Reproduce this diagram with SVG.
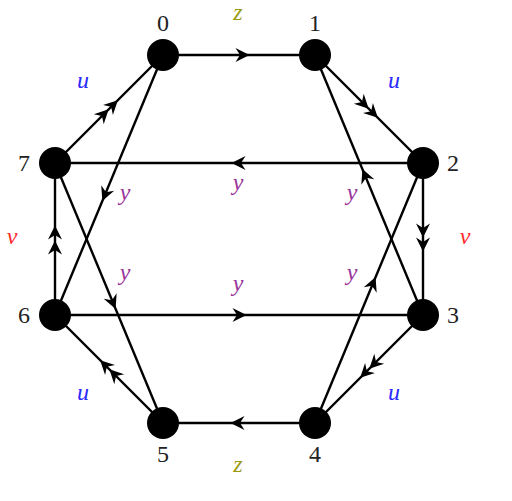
<svg xmlns="http://www.w3.org/2000/svg" xmlns:xlink="http://www.w3.org/1999/xlink" width="512" height="501" viewBox="0 0 512 501">
<style>
.edge{stroke:#000;stroke-width:2.4;fill:none}
.node{fill:#000}
.lbl{font-size:24px;fill:#222;text-anchor:middle}
.m{font-style:italic;font-size:24px;text-anchor:middle}
.u{fill:#2a2aff}.v{fill:#ff2a2a}.y{fill:#993399}.z{fill:#9a9a10}
</style>
<defs>
<path id="ah" d="M1.5,0 L-12.5,-7 L-8,0 L-12.5,7 Z" fill="#000"/>
</defs>
<rect width="512" height="501" fill="#fff"/>
<g id="connectors">
<line class="edge" x1="163" y1="55" x2="315" y2="55"/>
<line class="edge" x1="315" y1="55" x2="423" y2="163"/>
<line class="edge" x1="423" y1="163" x2="423" y2="315"/>
<line class="edge" x1="423" y1="315" x2="315" y2="423"/>
<line class="edge" x1="315" y1="423" x2="163" y2="423"/>
<line class="edge" x1="163" y1="423" x2="55" y2="315"/>
<line class="edge" x1="55" y1="315" x2="55" y2="163"/>
<line class="edge" x1="55" y1="163" x2="163" y2="55"/>
<line class="edge" x1="423" y1="163" x2="55" y2="163"/>
<line class="edge" x1="55" y1="315" x2="423" y2="315"/>
<line class="edge" x1="163" y1="55" x2="55" y2="315"/>
<line class="edge" x1="55" y1="163" x2="163" y2="423"/>
<line class="edge" x1="423" y1="315" x2="315" y2="55"/>
<line class="edge" x1="315" y1="423" x2="423" y2="163"/>
<use xlink:href="#ah" transform="translate(248,55)"/>
<use xlink:href="#ah" transform="translate(232,423) rotate(180)"/>
<use xlink:href="#ah" transform="translate(233,163) rotate(180)"/>
<use xlink:href="#ah" transform="translate(245,315)"/>
<use xlink:href="#ah" transform="translate(367.6,107.6) rotate(45)"/>
<use xlink:href="#ah" transform="translate(376.8,116.8) rotate(45)"/>
<use xlink:href="#ah" transform="translate(423,236) rotate(90)"/>
<use xlink:href="#ah" transform="translate(423,250) rotate(90)"/>
<use xlink:href="#ah" transform="translate(370.4,367.6) rotate(135)"/>
<use xlink:href="#ah" transform="translate(361.2,376.8) rotate(135)"/>
<use xlink:href="#ah" transform="translate(110.4,370.4) rotate(-135)"/>
<use xlink:href="#ah" transform="translate(101.2,361.2) rotate(-135)"/>
<use xlink:href="#ah" transform="translate(55,242) rotate(-90)"/>
<use xlink:href="#ah" transform="translate(55,227) rotate(-90)"/>
<use xlink:href="#ah" transform="translate(107.6,110.4) rotate(-45)"/>
<use xlink:href="#ah" transform="translate(116.8,101.2) rotate(-45)"/>
<use xlink:href="#ah" transform="translate(102.9,199.6) rotate(112.56)"/>
<use xlink:href="#ah" transform="translate(115,307.6) rotate(67.44)"/>
<use xlink:href="#ah" transform="translate(363,170.4) rotate(-112.56)"/>
<use xlink:href="#ah" transform="translate(375,278.4) rotate(-67.44)"/>
</g>
<g id="edge-labels" font-family="Liberation Serif, DejaVu Serif, serif">
<text class="m z" x="238" y="20" font-size="20">z</text>
<text class="m z" x="238" y="472">z</text>
<text class="m u" x="83" y="88">u</text>
<text class="m u" x="394" y="88">u</text>
<text class="m u" x="83" y="400">u</text>
<text class="m u" x="394" y="400">u</text>
<text class="m v" x="12" y="244">v</text>
<text class="m v" x="465" y="244">v</text>
<text class="m y" x="238" y="190">y</text>
<text class="m y" x="238" y="291">y</text>
<text class="m y" x="125" y="200">y</text>
<text class="m y" x="125" y="280">y</text>
<text class="m y" x="352" y="200">y</text>
<text class="m y" x="352" y="280">y</text>
</g>
<g id="nodes" font-family="Liberation Serif, DejaVu Serif, serif">
<g id="node0"><circle class="node" cx="163" cy="55" r="16"/><text class="lbl" x="163" y="31">0</text></g>
<g id="node1"><circle class="node" cx="315" cy="55" r="16"/><text class="lbl" x="315" y="31">1</text></g>
<g id="node2"><circle class="node" cx="423" cy="163" r="16"/><text class="lbl" x="453" y="171">2</text></g>
<g id="node3"><circle class="node" cx="423" cy="315" r="16"/><text class="lbl" x="453" y="323">3</text></g>
<g id="node4"><circle class="node" cx="315" cy="423" r="16"/><text class="lbl" x="315" y="462">4</text></g>
<g id="node5"><circle class="node" cx="163" cy="423" r="16"/><text class="lbl" x="163" y="462">5</text></g>
<g id="node6"><circle class="node" cx="55" cy="315" r="16"/><text class="lbl" x="24" y="323">6</text></g>
<g id="node7"><circle class="node" cx="55" cy="163" r="16"/><text class="lbl" x="24" y="171">7</text></g>
</g>
</svg>
